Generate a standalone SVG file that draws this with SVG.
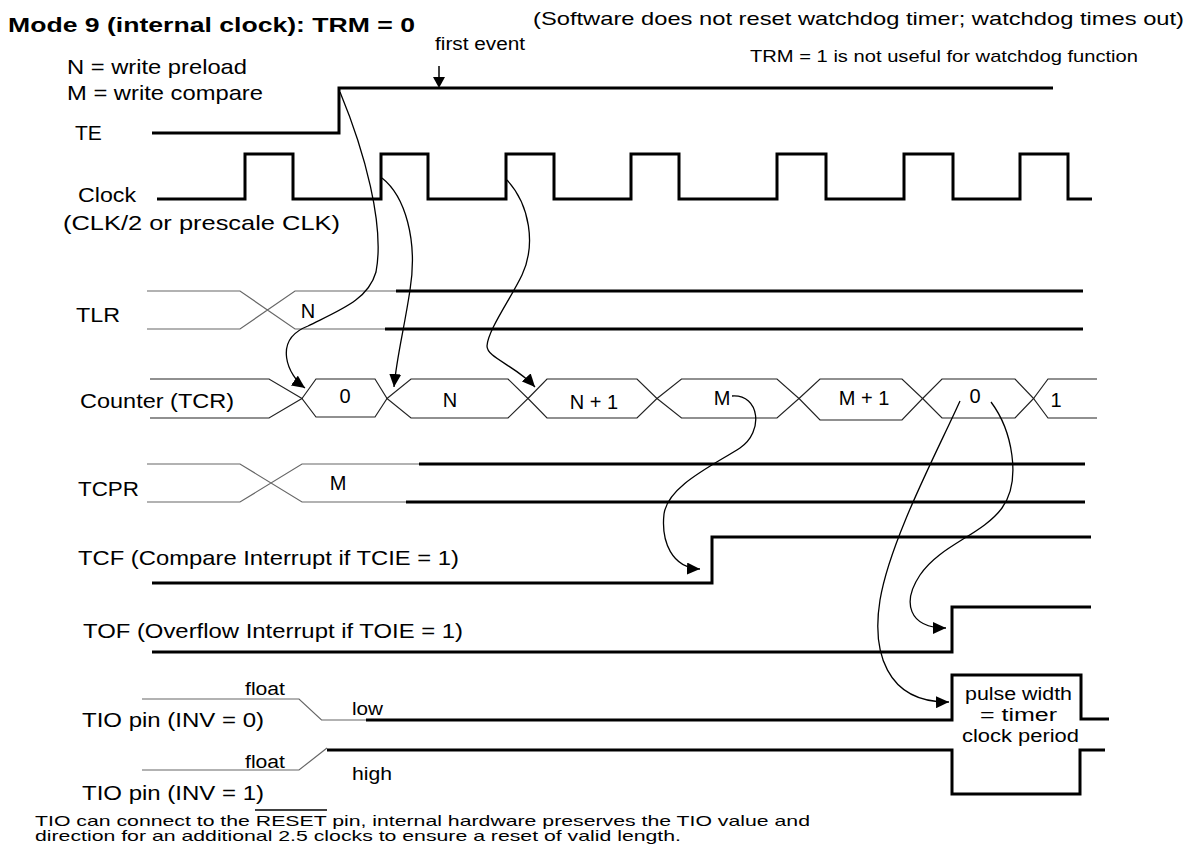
<svg xmlns="http://www.w3.org/2000/svg" width="1200" height="852" viewBox="0 0 1200 852">
<style>
text{font-family:"Liberation Sans",Arial,Helvetica,sans-serif;fill:#000}
.l{font-size:21px}
.s{font-size:18px}
.v{font-size:20px;text-anchor:middle}
.thick{stroke:#000;stroke-width:3;fill:none}
.thin{stroke:#666;stroke-width:1.2;fill:none}
.bus{stroke:#222;stroke-width:1.2;fill:none}
.conn{stroke:#000;stroke-width:1.3;fill:none;marker-end:url(#ah)}
</style>
<defs>
<marker id="ah" markerWidth="14" markerHeight="12" refX="13" refY="6" orient="auto" markerUnits="userSpaceOnUse"><path d="M0,0 L13,6 L0,12 z" fill="#000"/></marker>
</defs>
<rect width="1200" height="852" fill="#fff"/>

<g id="header">
<text x="8" y="32" font-weight="bold" font-size="21" textLength="407" lengthAdjust="spacingAndGlyphs">Mode 9 (internal clock): TRM = 0</text>
<text x="533" y="25" font-size="19" textLength="651" lengthAdjust="spacingAndGlyphs">(Software does not reset watchdog timer; watchdog times out)</text>
<text x="750" y="62" font-size="17" textLength="388" lengthAdjust="spacingAndGlyphs">TRM = 1 is not useful for watchdog function</text>
<text class="l" x="67" y="74" textLength="180" lengthAdjust="spacingAndGlyphs">N = write preload</text>
<text class="l" x="67" y="100" textLength="196" lengthAdjust="spacingAndGlyphs">M = write compare</text>
</g>

<g id="first-event">
<text x="435" y="50" font-size="18" textLength="90" lengthAdjust="spacingAndGlyphs">first event</text>
<line x1="439" y1="66" x2="439" y2="78" stroke="#000" stroke-width="1.5"/>
<path d="M433,77 L445,77 L439,88 z" fill="#000"/>
</g>

<g id="sig-te">
<text class="l" x="75" y="140">TE</text>
<path class="thick" d="M152,133 H339 V88 H1053"/>
</g>

<g id="sig-clock">
<text class="l" x="78" y="202" textLength="58" lengthAdjust="spacingAndGlyphs">Clock</text>
<text class="l" x="63" y="230" textLength="277" lengthAdjust="spacingAndGlyphs">(CLK/2 or prescale CLK)</text>
<path class="thick" d="M157,199 H245 V154 H293 V199 H381 V154 H428 V199 H506 V154 H554 V199 H631 V154 H679 V199 H777 V154 H826 V199 H904 V154 H953 V199 H1020 V154 H1068 V199 H1092"/>
</g>

<g id="sig-tlr">
<text class="l" x="76" y="322" textLength="44" lengthAdjust="spacingAndGlyphs">TLR</text>
<path class="thin" d="M147,291 H240 L295,329 H385 M147,329 H240 L295,291 H396"/>
<path class="thick" d="M396,291 H1083 M385,329 H1083" stroke-width="2.6"/>
<text class="v" x="308" y="318">N</text>
</g>

<g id="sig-counter">
<text class="l" x="80" y="408" textLength="154" lengthAdjust="spacingAndGlyphs">Counter (TCR)</text>
<path class="bus" d="M150,379 H269 L302,398.5 L269,418 H150"/>
<path class="bus" d="M302,398.5 L316,379 H375 L387,398.5 L375,417 H316 Z"/>
<path class="bus" d="M387,398.5 L411,379 H508 L528,398.5 L508,418 H411 Z"/>
<path class="bus" d="M528,398.5 L547,379 H637 L657,398.5 L637,418 H547 Z"/>
<path class="bus" d="M657,398.5 L681.5,379 H777 L799,398.5 L777,418 H681.5 Z"/>
<path class="bus" d="M799,398.5 L820,379 H902 L922.6,398.5 L902,420 H820 Z"/>
<path class="bus" d="M922.6,398.5 L942,379 H1015 L1033.6,398.5 L1015,418 H942 Z"/>
<path class="bus" d="M1097,379 H1048 L1033.6,398.5 L1048,418 H1097"/>
<text class="v" x="345" y="403">0</text>
<text class="v" x="450" y="407">N</text>
<text class="v" x="594" y="409">N + 1</text>
<text class="v" x="722" y="405">M</text>
<text class="v" x="864" y="405">M + 1</text>
<text class="v" x="975" y="403">0</text>
<text class="v" x="1056" y="407">1</text>
</g>

<g id="sig-tcpr">
<text class="l" x="78" y="496" textLength="61" lengthAdjust="spacingAndGlyphs">TCPR</text>
<path class="thin" d="M147,464 H240 L302,502 H406 M147,502 H240 L302,464 H419"/>
<path class="thick" d="M419,464 H1085 M406,502 H1085" stroke-width="2.6"/>
<text class="v" x="338" y="490">M</text>
</g>

<g id="sig-tcf">
<text class="l" x="78" y="565" textLength="381" lengthAdjust="spacingAndGlyphs">TCF (Compare Interrupt if TCIE = 1)</text>
<path class="thick" d="M152,583 H712 V537 H1091"/>
</g>

<g id="sig-tof">
<text class="l" x="83" y="638" textLength="380" lengthAdjust="spacingAndGlyphs">TOF (Overflow Interrupt if TOIE = 1)</text>
<path class="thick" d="M152,652 H952 V607 H1091"/>
</g>

<g id="sig-tio0">
<text class="s" x="245" y="695" textLength="40" lengthAdjust="spacingAndGlyphs">float</text>
<text class="s" x="352" y="715" textLength="31" lengthAdjust="spacingAndGlyphs">low</text>
<text class="l" x="82" y="727" textLength="182" lengthAdjust="spacingAndGlyphs">TIO pin (INV = 0)</text>
<path class="thin" d="M142,699 H299 L321.5,720 H367" stroke="#333"/>
<path class="thick" d="M366,720 H952 V675 H1081 V719 H1109"/>
</g>

<g id="sig-tio1">
<text class="s" x="245" y="768" textLength="40" lengthAdjust="spacingAndGlyphs">float</text>
<text class="s" x="352" y="780" textLength="40" lengthAdjust="spacingAndGlyphs">high</text>
<text class="l" x="82" y="800" textLength="182" lengthAdjust="spacingAndGlyphs">TIO pin (INV = 1)</text>
<path class="thin" d="M142,770 H299 L327,748" stroke="#333"/>
<path class="thick" d="M327,750 H952 V794 H1080 V750 H1105"/>
</g>

<g id="pulse-note">
<text class="s" x="965" y="700" textLength="107" lengthAdjust="spacingAndGlyphs">pulse width</text>
<text class="s" x="980" y="721" textLength="77" lengthAdjust="spacingAndGlyphs">= timer</text>
<text class="s" x="962" y="742" textLength="117" lengthAdjust="spacingAndGlyphs">clock period</text>
</g>

<g id="footnote">
<text x="35" y="826" font-size="15" textLength="775" lengthAdjust="spacingAndGlyphs">TIO can connect to the RESET pin, internal hardware preserves the TIO value and</text>
<text x="35" y="841" font-size="15" textLength="646" lengthAdjust="spacingAndGlyphs">direction for an additional 2.5 clocks to ensure a reset of valid length.</text>
<line x1="255" y1="810" x2="327" y2="810" stroke="#000" stroke-width="1.5"/>
</g>

<g id="connectors">
<path class="conn" d="M340,92 C364,150 385,225 376,272 C368,300 340,310 308,326 C272,340 288,376 305,388"/>
<path class="conn" d="M382,178 C405,196 418,240 410,290 C404,330 397,355 394,387"/>
<path class="conn" d="M507,180 C530,205 536,245 522,275 C510,300 488,330 487,346 C487,358 515,365 535,387"/>
<path class="conn" d="M732,396 C760,394 764,432 740,448 C712,466 668,486 664,514 C661,542 672,568 700,569"/>
<path class="conn" d="M960,401 C938,450 890,540 880,600 C872,650 885,703 949,702"/>
<path class="conn" d="M991,402 C1012,430 1022,480 1002,508 C982,535 940,545 920,575 C902,602 908,628 946,628"/>
</g>
</svg>
